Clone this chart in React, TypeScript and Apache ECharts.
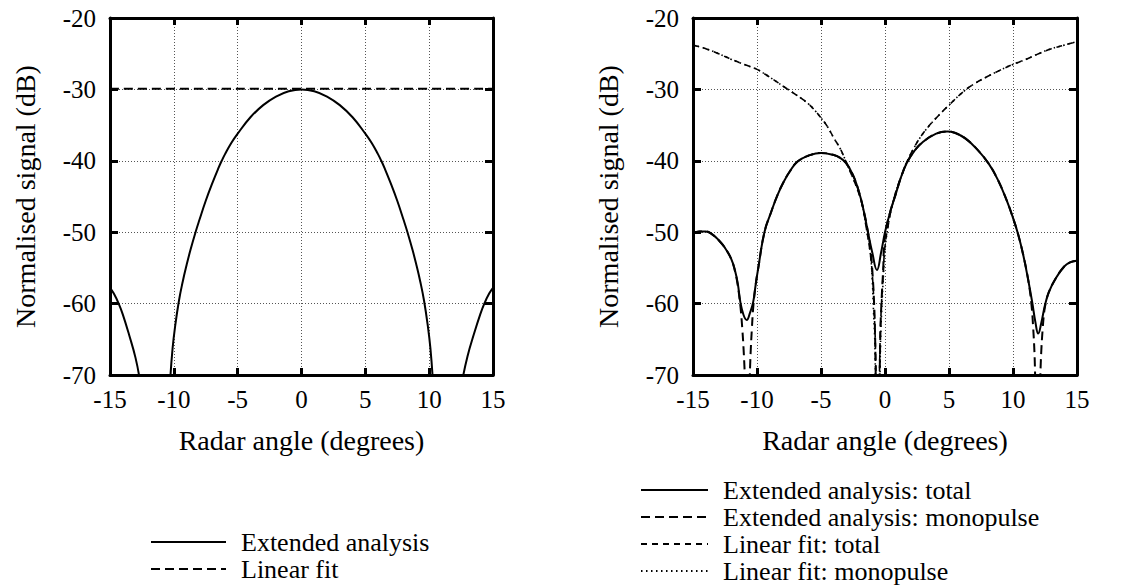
import React, { useEffect, useRef } from "react";
import * as echarts from "echarts";

// ---------- data ----------
const angleMin = -15;
const angleMax = 15;
const angleStep = 5;
const signalMin = -70;
const signalMax = -20;
const signalStep = 10;

const xTitle = "Radar angle (degrees)";
const yTitle = "Normalised signal (dB)";

const leftNames = ["Extended analysis", "Linear fit"];
const rightNames = [
  "Extended analysis: total",
  "Extended analysis: monopulse",
  "Linear fit: total",
  "Linear fit: monopulse",
];

// Left panel
const leftExtSideLobeL = [
  [-15, -57.8], [-14.7, -58.6], [-14.32, -60], [-14, -61.5], [-13.5, -64.4], [-13, -67.6], [-12.68, -70.5],
];
const leftExtMainLobe = [
  [-10.28, -70.5], [-10.1, -66.3], [-9.9, -63.2], [-9.6, -59.6], [-9.3, -56.9], [-9, -54.6],
  [-8.7, -52.5], [-8.3, -50], [-8, -48.3], [-7.5, -45.6], [-7, -43.2], [-6.5, -41], [-6.25, -40],
  [-6, -39.1], [-5.5, -37.5], [-5, -36.2], [-4, -33.9], [-3, -32.2], [-2, -31], [-1, -30.25], [0, -30],
  [1, -30.25], [2, -31], [3, -32.2], [4, -33.9], [5, -36.2], [5.5, -37.5], [6, -39.1], [6.25, -40],
  [6.5, -41], [7, -43.2], [7.5, -45.6], [8, -48.3], [8.3, -50], [8.7, -52.5], [9, -54.6], [9.3, -56.9],
  [9.6, -59.6], [9.9, -63.2], [10.1, -66.3], [10.28, -70.5],
];
const leftExtSideLobeR = [
  [12.62, -70.5], [13, -67.4], [13.5, -64.3], [14, -61.5], [14.32, -60], [14.7, -58.6], [15, -57.8],
];
const leftLinearFit = [[-15, -29.9], [15, -29.9]];

// Right panel
const rightExtTotal = [
  [-15, -50.1], [-14.5, -49.9], [-14, -49.9], [-13.5, -50.3], [-13, -51.1], [-12.5, -52.2], [-12, -53.8],
  [-11.7, -55.5], [-11.5, -57.2], [-11.3, -59.8], [-11.05, -61.6], [-10.8, -62.3], [-10.55, -61.3],
  [-10.3, -59.8], [-10.1, -57.3], [-9.9, -55], [-9.42, -50], [-8.9, -47.2], [-8.4, -44.8], [-7.9, -42.9],
  [-7.44, -41.5], [-6.83, -40.1], [-6, -39.3], [-5, -38.9], [-4, -39.2], [-3.5, -39.6], [-3.05, -40.3],
  [-2.5, -42], [-2.06, -44.2], [-1.7, -46.7], [-1.33, -50], [-1, -52.8], [-0.63, -55.3], [-0.3, -52.8],
  [0, -50], [0.4, -47.2], [0.85, -44.6], [1.25, -42.3], [1.7, -40.3], [2.3, -38.6], [3, -37.3],
  [4, -36.2], [4.85, -35.9], [5.5, -36.1], [6.3, -36.9], [7.2, -38.4], [8.1, -40.4], [8.8, -42.6],
  [9.5, -45.5], [10, -48], [10.4, -50.3], [10.8, -53.2], [11.2, -56.8], [11.5, -59.8], [11.75, -62.6],
  [11.97, -64.2], [12.2, -62.8], [12.5, -60.2], [12.8, -58.4], [13.3, -56.6], [14, -54.8], [14.5, -54.2],
  [15, -54.0],
];
const rightExtMonoA = [
  [-15, -50.1], [-14.5, -49.9], [-14, -49.9], [-13.5, -50.3], [-13, -51.1], [-12.5, -52.2], [-12, -53.8],
  [-11.7, -55.6], [-11.5, -57.5], [-11.3, -60.3], [-11.15, -63.5], [-11.03, -67], [-10.93, -71],
];
const rightExtMonoB = [
  [-10.58, -71], [-10.5, -67], [-10.4, -63.5], [-10.28, -60.2], [-10.1, -57.3], [-9.9, -55], [-9.42, -50],
  [-8.9, -47.2], [-8.4, -44.8], [-7.9, -42.9], [-7.44, -41.5], [-6.83, -40.1], [-6, -39.3], [-5, -38.9],
  [-4, -39.2], [-3.5, -39.6], [-3.05, -40.3], [-2.5, -42], [-2.06, -44.2], [-1.7, -46.7], [-1.33, -50],
  [-1.1, -53], [-0.95, -56.5], [-0.85, -60], [-0.78, -64], [-0.72, -71],
];
const rightExtMonoC = [
  [-0.42, -71], [-0.36, -64], [-0.28, -60], [-0.15, -55.5], [0, -50.5], [0.4, -47.2], [0.85, -44.6],
  [1.25, -42.3], [1.7, -40.3], [2.3, -38.6], [3, -37.3], [4, -36.2], [4.85, -35.9], [5.5, -36.1],
  [6.3, -36.9], [7.2, -38.4], [8.1, -40.4], [8.8, -42.6], [9.5, -45.5], [10, -48], [10.4, -50.3],
  [10.8, -53.2], [11.2, -56.8], [11.45, -60.3], [11.58, -63.5], [11.68, -67], [11.74, -71],
];
const rightExtMonoD = [
  [12.12, -71], [12.2, -67], [12.32, -63.5], [12.45, -61], [12.6, -59.6], [12.8, -58.4], [13.3, -56.6],
  [14, -54.8], [14.5, -54.2], [15, -54.0],
];
const rightFitTotalA = [
  [-15, -23.8], [-14, -24.3], [-13, -25], [-12, -25.8], [-11, -26.5], [-10, -27.2], [-9, -28.3],
  [-8, -29.5], [-7.5, -30.1], [-7, -30.7], [-6.5, -31.3], [-6, -32], [-5.5, -32.9], [-5, -34],
  [-4.5, -35.2], [-4, -36.8], [-3.5, -38.3], [-3.05, -40.1], [-2.6, -42], [-2.2, -43.8], [-1.8, -46],
  [-1.45, -49.5], [-1.15, -53], [-0.95, -57], [-0.85, -61], [-0.76, -65], [-0.7, -71],
];
const rightFitTotalB = [
  [-0.44, -71], [-0.38, -65], [-0.3, -61], [-0.15, -56], [0, -52], [0.3, -48.5], [0.6, -46], [1, -43.5],
  [1.4, -41.6], [1.7, -40.2], [2.2, -38.4], [2.8, -36.6], [3.4, -35.2], [4, -34], [5, -32.2], [6.2, -30.2],
  [7, -29.2], [8, -28.2], [9, -27.3], [10, -26.5], [11, -25.8], [12, -25], [13, -24.3], [14, -23.8],
  [15, -23.3],
];
const rightFitMonoA = [
  [-15, -23.8], [-14, -24.3], [-13, -25], [-12, -25.8], [-11, -26.5], [-10, -27.2], [-9, -28.3],
  [-8, -29.5], [-7.5, -30.1], [-7, -30.7], [-6.5, -31.3], [-6, -32], [-5.5, -32.9], [-5, -34],
  [-4.5, -35.2], [-4, -36.8], [-3.5, -38.3], [-3.05, -40.1], [-2.6, -42], [-2.2, -43.8], [-1.8, -46],
  [-1.45, -49.5], [-1.15, -53], [-1, -56.5], [-0.9, -61], [-0.8, -65], [-0.74, -71],
];
const rightFitMonoB = [
  [-0.4, -71], [-0.34, -65], [-0.26, -61], [-0.12, -56], [0, -52.5], [0.3, -48.5], [0.6, -46], [1, -43.5],
  [1.4, -41.6], [1.7, -40.2], [2.2, -38.4], [2.8, -36.6], [3.4, -35.2], [4, -34], [5, -32.2], [6.2, -30.2],
  [7, -29.2], [8, -28.2], [9, -27.3], [10, -26.5], [11, -25.8], [12, -25], [13, -24.3], [14, -23.8],
  [15, -23.3],
];

// ---------- styles ----------
const FONT = "Liberation Serif";
const FS_TICK = 25;
const FS = 28;
const FS_LEG = 26;
const solid = { color: "#000", width: 2, type: "solid" as any };
const longDash = { color: "#000", width: 2, type: [9, 5] as any };
const shortDash = { color: "#000", width: 1.6, type: [6, 5] as any };
const dotted = { color: "#000", width: 1.6, type: [1.5, 3.5] as any };

const richTick = { t: { fontFamily: FONT, fontSize: FS_TICK, color: "#000" } };
const richName = { t: { fontFamily: FONT, fontSize: FS, color: "#000" } };
const richLeg = { t: { fontFamily: FONT, fontSize: FS_LEG, color: "#000", lineHeight: 25 } };

function line(name: string, data: number[][], style: any, g: number) {
  return {
    type: "line",
    name,
    data,
    xAxisIndex: g * 2,
    yAxisIndex: g * 2,
    symbol: "none",
    showSymbol: false,
    smooth: 0.45,
    clip: true,
    silent: true,
    color: "#000",
    itemStyle: { color: "#000" },
    lineStyle: style,
  };
}

function xAxes(g: number) {
  const common = {
    type: "value",
    gridIndex: g,
    min: angleMin,
    max: angleMax,
    interval: angleStep,
    axisLine: { onZero: false, lineStyle: { color: "#000", width: 3 } },
    axisTick: { inside: true, length: 7, lineStyle: { color: "#000", width: 3 } },
  };
  return [
    {
      ...common,
      position: "bottom",
      axisLabel: {
        fontFamily: FONT,
        fontSize: FS_TICK,
        color: "#000",
        margin: 12,
        formatter: "{t|{value}}",
        rich: richTick,
      },
      splitLine: { show: true, lineStyle: { color: "#555", width: 1, type: [1, 2] } },
      name: "{t|" + xTitle + "}",
      nameLocation: "middle",
      nameGap: 51,
      nameTextStyle: { fontFamily: FONT, fontSize: FS, color: "#000", rich: richName },
    },
    {
      ...common,
      position: "top",
      axisLabel: { show: false },
      splitLine: { show: false },
    },
  ];
}

function yAxes(g: number) {
  const common = {
    type: "value",
    gridIndex: g,
    min: signalMin,
    max: signalMax,
    interval: signalStep,
    axisLine: { onZero: false, lineStyle: { color: "#000", width: 3 } },
    axisTick: { inside: true, length: 8, lineStyle: { color: "#000", width: 3 } },
  };
  return [
    {
      ...common,
      position: "left",
      axisLabel: {
        fontFamily: FONT,
        fontSize: FS_TICK,
        color: "#000",
        margin: 14,
        formatter: "{t|{value}}",
        rich: richTick,
      },
      splitLine: { show: true, lineStyle: { color: "#555", width: 1, type: [1, 2] } },
      name: "{t|" + yTitle + "}",
      nameLocation: "middle",
      nameRotate: 90,
      nameGap: 71,
      nameTextStyle: { fontFamily: FONT, fontSize: FS, color: "#000", rich: richName },
    },
    {
      ...common,
      position: "right",
      axisLabel: { show: false },
      splitLine: { show: false },
    },
  ];
}

function legend(left: number, top: number, w: number, names: string[]) {
  return {
    orient: "vertical",
    left,
    top,
    height: 110,
    padding: 0,
    itemGap: 1,
    itemWidth: w,
    itemHeight: 1,
    selectedMode: false,
    data: names,
    formatter: "{t|{name}}",
    itemStyle: { color: "transparent", borderColor: "transparent", borderWidth: 0, opacity: 0 },
    textStyle: {
      fontFamily: FONT,
      fontSize: FS_LEG,
      color: "#000",
      lineHeight: 25,
      padding: [0, 0, 0, 10],
      rich: richLeg,
    },
  };
}

export default function App() {
  const ref = useRef<HTMLDivElement>(null);
  useEffect(() => {
    if (!ref.current) return;
    const chart = echarts.init(ref.current, undefined, { renderer: "svg" });
    const option: any = {
      animation: false,
      backgroundColor: "#fff",
      textStyle: { fontFamily: FONT },
      grid: [
        { left: 110, top: 18, width: 383, height: 357 },
        { left: 693, top: 18, width: 384, height: 357 },
      ],
      xAxis: [...xAxes(0), ...xAxes(1)],
      yAxis: [...yAxes(0), ...yAxes(1)],
      legend: [legend(150, 529, 75, leftNames), legend(640, 477, 67, rightNames)],
      series: [
        line(leftNames[1], leftLinearFit, longDash, 0),
        line(leftNames[0], leftExtMainLobe, solid, 0),
        line(leftNames[0], leftExtSideLobeL, solid, 0),
        line(leftNames[0], leftExtSideLobeR, solid, 0),
        line(rightNames[3], rightFitMonoA, dotted, 1),
        line(rightNames[3], rightFitMonoB, dotted, 1),
        line(rightNames[2], rightFitTotalA, shortDash, 1),
        line(rightNames[2], rightFitTotalB, shortDash, 1),
        line(rightNames[1], rightExtMonoA, longDash, 1),
        line(rightNames[1], rightExtMonoB, longDash, 1),
        line(rightNames[1], rightExtMonoC, longDash, 1),
        line(rightNames[1], rightExtMonoD, longDash, 1),
        line(rightNames[0], rightExtTotal, solid, 1),
      ],
    };
    chart.setOption(option);
    return () => chart.dispose();
  }, []);
  return (
    <div
      ref={ref}
      style={{ position: "absolute", left: 0, top: 0, width: 1132, height: 585, background: "#fff" }}
    />
  );
}
